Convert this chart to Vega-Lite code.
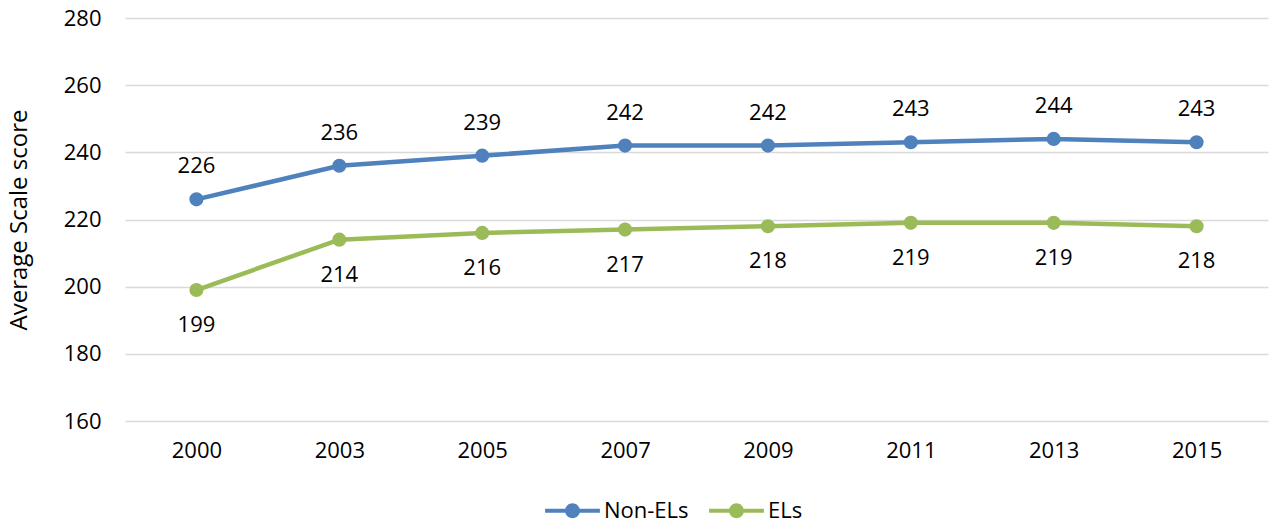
{
  "$schema": "https://vega.github.io/schema/vega-lite/v6.json",
  "width": 1143,
  "height": 403,
  "autosize": {"type": "none"},
  "padding": {"left": 125, "top": 18, "right": 10, "bottom": 100},
  "background": "white",
  "config": {
    "font": "Open Sans",
    "view": {"stroke": null},
    "axis": {"labelFont": "Open Sans", "titleFont": "Open Sans", "labelColor": "#000", "titleColor": "#000"}
  },
  "data": {
    "values": [
      {"year": "2000", "series": "Non-ELs", "score": 226},
      {"year": "2003", "series": "Non-ELs", "score": 236},
      {"year": "2005", "series": "Non-ELs", "score": 239},
      {"year": "2007", "series": "Non-ELs", "score": 242},
      {"year": "2009", "series": "Non-ELs", "score": 242},
      {"year": "2011", "series": "Non-ELs", "score": 243},
      {"year": "2013", "series": "Non-ELs", "score": 244},
      {"year": "2015", "series": "Non-ELs", "score": 243},
      {"year": "2000", "series": "ELs", "score": 199},
      {"year": "2003", "series": "ELs", "score": 214},
      {"year": "2005", "series": "ELs", "score": 216},
      {"year": "2007", "series": "ELs", "score": 217},
      {"year": "2009", "series": "ELs", "score": 218},
      {"year": "2011", "series": "ELs", "score": 219},
      {"year": "2013", "series": "ELs", "score": 219},
      {"year": "2015", "series": "ELs", "score": 218}
    ]
  },
  "encoding": {
    "x": {
      "field": "year", "type": "ordinal",
      "scale": {"type": "point", "padding": 0.5},
      "axis": {"title": null, "labelAngle": 0, "ticks": false, "domain": false, "grid": false, "labelPadding": 19, "labelFontSize": 22}
    },
    "y": {
      "field": "score", "type": "quantitative",
      "scale": {"domain": [160, 280], "nice": false, "zero": false},
      "axis": {
        "values": [160, 180, 200, 220, 240, 260, 280],
        "title": "Average Scale score",
        "titleFontSize": 24, "titleFontWeight": "normal",
        "labelFontSize": 22,
        "grid": true, "gridColor": "#d9d9d9", "gridWidth": 1.5,
        "domain": false, "ticks": false, "labelPadding": 24, "titlePadding": 32
      }
    }
  },
  "layer": [
    {
      "mark": {"type": "line", "strokeWidth": 4.5},
      "encoding": {
        "color": {
          "field": "series", "type": "nominal",
          "scale": {"domain": ["Non-ELs", "ELs"], "range": ["#4f81bd", "#9bbb59"]},
          "legend": {
            "title": null, "orient": "none", "legendX": 420, "legendY": 465, "direction": "horizontal",
            "symbolType": "M-1,-0.075H-0.2V0.075H-1Z M0.2,-0.075H1V0.075H0.2Z M-0.27,0A0.27,0.27 0 1,1 0.27,0A0.27,0.27 0 1,1 -0.27,0Z",
            "symbolSize": 3000, "symbolStrokeWidth": 0, "labelFontSize": 22, "labelColor": "#000", "labelFont": "Open Sans",
            "columnPadding": 20, "labelOffset": 4, "padding": 0,
            "encode": {"symbols": {"update": {"fill": {"scale": "color", "field": "value"}, "strokeWidth": {"value": 0}, "opacity": {"value": 1}, "size": {"value": 3000}, "shape": {"value": "M-1,-0.075H-0.2V0.075H-1Z M0.2,-0.075H1V0.075H0.2Z M-0.27,0A0.27,0.27 0 1,1 0.27,0A0.27,0.27 0 1,1 -0.27,0Z"}}}}
          }
        }
      }
    },
    {
      "mark": {"type": "point", "filled": true, "size": 200, "opacity": 1},
      "encoding": {
        "color": {
          "field": "series", "type": "nominal",
          "scale": {"domain": ["Non-ELs", "ELs"], "range": ["#4f81bd", "#9bbb59"]},
          "legend": {
            "title": null, "orient": "none", "legendX": 420, "legendY": 465, "direction": "horizontal",
            "symbolType": "M-1,-0.075H-0.2V0.075H-1Z M0.2,-0.075H1V0.075H0.2Z M-0.27,0A0.27,0.27 0 1,1 0.27,0A0.27,0.27 0 1,1 -0.27,0Z",
            "symbolSize": 3000, "symbolStrokeWidth": 0, "labelFontSize": 22, "labelColor": "#000", "labelFont": "Open Sans",
            "columnPadding": 20, "labelOffset": 4, "padding": 0,
            "encode": {"symbols": {"update": {"fill": {"scale": "color", "field": "value"}, "strokeWidth": {"value": 0}, "opacity": {"value": 1}, "size": {"value": 3000}, "shape": {"value": "M-1,-0.075H-0.2V0.075H-1Z M0.2,-0.075H1V0.075H0.2Z M-0.27,0A0.27,0.27 0 1,1 0.27,0A0.27,0.27 0 1,1 -0.27,0Z"}}}}
          }
        }
      }
    },
    {
      "transform": [{"filter": "datum.series === 'Non-ELs'"}],
      "mark": {"type": "text", "dy": -33, "fontSize": 22, "font": "Open Sans", "color": "#000"},
      "encoding": {"text": {"field": "score", "type": "quantitative"}}
    },
    {
      "transform": [{"filter": "datum.series === 'ELs'"}],
      "mark": {"type": "text", "dy": 35, "fontSize": 22, "font": "Open Sans", "color": "#000"},
      "encoding": {"text": {"field": "score", "type": "quantitative"}}
    }
  ]
}
